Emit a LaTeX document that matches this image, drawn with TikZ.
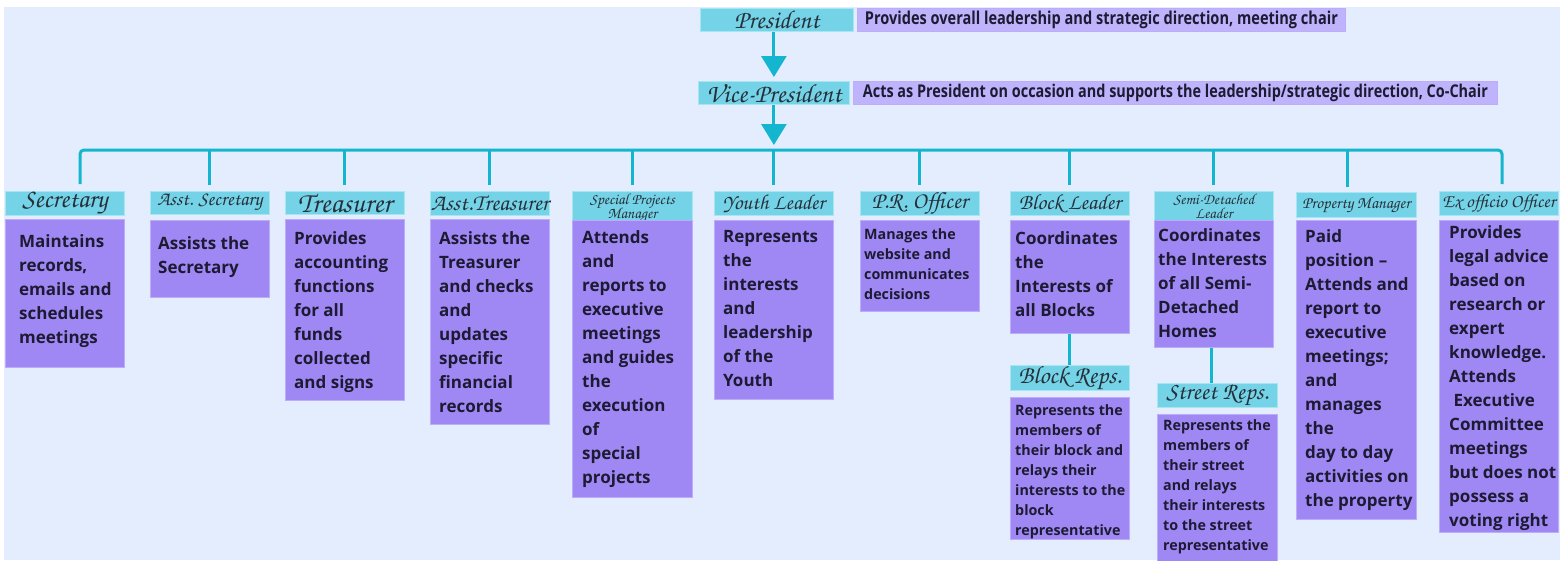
\documentclass[tikz,border=0pt]{standalone}
\usepackage[T1]{fontenc}
\usepackage{fontspec}
\usepackage{graphicx}
\setmainfont{Open Sans}
\newfontfamily\condfont{Open Sans}[FakeStretch=0.82]
\usetikzlibrary{arrows.meta}

% palette
\definecolor{bgblue}{HTML}{E4EDFD}
\definecolor{titlecyan}{HTML}{75D3E7}
\definecolor{titleedge}{HTML}{A6E6F2}
\definecolor{descpurple}{HTML}{A088F4}
\definecolor{descedge}{HTML}{BCACF9}
\definecolor{toplav}{HTML}{BFB3FB}
\definecolor{linkcyan}{HTML}{14B6CF}
\definecolor{inkdark}{HTML}{1D1B33}
\definecolor{scriptink}{HTML}{26303A}

% script lettering for the role names
\newcommand\scr{\fontencoding{T1}\fontfamily{pzc}\fontseries{mb}\fontshape{it}\selectfont}
\newcommand\fitw[2]{\resizebox{#1pt}{!}{#2}}
\newcommand\bigtxt{\fontsize{17}{24}\selectfont\bfseries}
\newcommand\smalltxt{\fontsize{14.3}{20}\selectfont\bfseries}

\begin{document}
\begin{tikzpicture}[x=1pt,y=-1pt,
  ttl/.style={draw=titleedge, line width=0.8pt, fill=titlecyan, inner sep=0pt,
    anchor=north west, text=scriptink, align=center, font=\scr},
  topd/.style={draw=descedge, line width=0.8pt, fill=toplav, inner sep=0pt,
    anchor=north west, text=inkdark, font=\condfont\bfseries\fontsize{15}{18}\selectfont},
  descb/.style={draw=descedge, line width=0.8pt, fill=descpurple, inner sep=0pt, anchor=north west},
  dtxt/.style={inner sep=0pt, anchor=north west, align=left, text=inkdark},
  link/.style={draw=linkcyan, line width=3pt},
  pointer/.style={link, -{Triangle[width=25pt,length=21pt]}}
]
\useasboundingbox (0,0) rectangle (1560,560);
\fill[bgblue] (4,7) rectangle (1560,560);

% --- leadership at the top
\node[ttl, minimum width=153, minimum height=23] (pres) at (700,8) {\fitw{85}{President}};
\node[topd, minimum width=488, minimum height=23] (presD) at (857,8)
  {\fitw{473}{Provides overall leadership and strategic direction, meeting chair}};
\node[ttl, minimum width=151, minimum height=23] (vp) at (698,81) {\fitw{135}{Vice-President}};
\node[topd, minimum width=644, minimum height=23] (vpD) at (853,81)
  {\fitw{625}{Acts as President on occasion and supports the leadership/strategic direction, Co-Chair}};

% --- committee role titles
\node[ttl, minimum width=119, minimum height=23] (sec)  at (5,191)    {\fitw{85}{Secretary}};
\node[ttl, minimum width=119, minimum height=23] (asec) at (150,191)  {\fitw{105}{Asst. Secretary}};
\node[ttl, minimum width=119, minimum height=23] (tre)  at (285,191)  {\fitw{94}{Treasurer}};
\node[ttl, minimum width=119, minimum height=24] (atre) at (430,191)  {\fitw{118}{Asst.Treasurer}};
\node[ttl, minimum width=120, minimum height=24] (spm)  at (572,191)
  {\fitw{85}{\begin{tabular}{@{}c@{}}Special Projects\\[-3pt]Manager\end{tabular}}};
\node[ttl, minimum width=119, minimum height=24] (you)  at (714,191)  {\fitw{102}{Youth Leader}};
\node[ttl, minimum width=119, minimum height=24] (pr)   at (860,191)  {\fitw{96}{P.R. Officer}};
\node[ttl, minimum width=119, minimum height=24] (bl)   at (1010,191) {\fitw{102}{Block Leader}};
\node[ttl, minimum width=119, minimum height=24] (sem)  at (1154,191)
  {\fitw{81}{\begin{tabular}{@{}c@{}}Semi-Detached\\[-3pt]Leader\end{tabular}}};
\node[ttl, minimum width=120, minimum height=25] (pm)   at (1296,192) {\fitw{108}{Property Manager}};
\node[ttl, minimum width=119, minimum height=24] (ex)   at (1439,191) {\fitw{113}{Ex officio Officer}};
\node[ttl, minimum width=119, minimum height=24] (br)   at (1010,365) {\fitw{103}{Block Reps.}};
\node[ttl, minimum width=120, minimum height=24] (str)  at (1157,383) {\fitw{102}{Street Reps.}};

% --- duty panels
\node[descb, minimum width=119, minimum height=148] (secD)  at (5,219)    {};
\node[descb, minimum width=119, minimum height=77]  (asecD) at (150,220)  {};
\node[descb, minimum width=119, minimum height=181] (treD)  at (285,219)  {};
\node[descb, minimum width=119, minimum height=205] (atreD) at (430,219)  {};
\node[descb, minimum width=120, minimum height=277] (spmD)  at (572,220)  {};
\node[descb, minimum width=119, minimum height=179] (youD)  at (714,220)  {};
\node[descb, minimum width=119, minimum height=91]  (prD)   at (860,220)  {};
\node[descb, minimum width=119, minimum height=113] (blD)   at (1010,220) {};
\node[descb, minimum width=119, minimum height=127] (semD)  at (1154,220) {};
\node[descb, minimum width=120, minimum height=299] (pmD)   at (1296,220) {};
\node[descb, minimum width=119, minimum height=312] (exD)   at (1439,220) {};
\node[descb, minimum width=119, minimum height=142] (brD)   at (1010,397) {};
\node[descb, minimum width=120, minimum height=150] (strD)  at (1157,414) {};

% --- duty texts
\node[dtxt, font=\bigtxt] (secT) at (19,234)
  {Maintains\\records,\\emails and\\schedules\\meetings};
\node[dtxt, font=\bigtxt] (asecT) at (158,236) {Assists the\\Secretary};
\node[dtxt, font=\bigtxt] (treT) at (294,231)
  {Provides\\accounting\\functions\\for all\\funds\\collected\\and signs};
\node[dtxt, font=\bigtxt] (atreT) at (439,231)
  {Assists the\\Treasurer\\and checks\\and\\updates\\specific\\financial\\records};
\node[dtxt, font=\bigtxt] (spmT) at (582,230)
  {Attends\\and\\reports to\\executive\\meetings\\and guides\\the\\execution\\of\\special\\projects};
\node[dtxt, font=\bigtxt] (youT) at (723,230)
  {Represents\\the\\interests\\and\\leadership\\of the\\Youth};
\node[dtxt, font=\smalltxt] (prT) at (864,228)
  {Manages the\\website and\\communicates\\decisions};
\node[dtxt, font=\bigtxt] (blT) at (1015,231)
  {Coordinates\\the\\Interests of\\all Blocks};
\node[dtxt, font=\bigtxt] (semT) at (1158,228)
  {Coordinates\\the Interests\\of all Semi-\\Detached\\Homes};
\node[dtxt, font=\bigtxt] (pmT) at (1305,229)
  {Paid\\position –\\Attends and\\report to\\executive\\meetings;\\and\\manages\\the\\day to day\\activities on\\the property};
\node[dtxt, font=\bigtxt] (exT) at (1449,225)
  {Provides\\legal advice\\based on\\research or\\expert\\knowledge.\\Attends\\\ Executive\\Committee\\meetings\\but does not\\possess a\\voting right};
\node[dtxt, font=\smalltxt] (brT) at (1015,404)
  {Represents the\\members of\\their block and\\relays their\\interests to the\\block\\representative};
\node[dtxt, font=\smalltxt] (strT) at (1163,419)
  {Represents the\\members of\\their street\\and relays\\their interests\\to the street\\representative};

% --- connectors
\draw[pointer, shorten >=4pt] (pres.south -| vp.north) -- (vp.north);
\coordinate (barL) at (80,150);
\coordinate (barR) at (1502,150);
\coordinate (pmDrop) at (1347,150);
\coordinate (semDrop) at (1211,360);
\draw[pointer, shorten >=5pt] (vp.south) -- (vp.south |- barL);
\draw[link, rounded corners=4pt, shorten <=7pt, shorten >=7pt]
  (sec.north -| barL) -- (barL) -- (barR) -- (ex.north -| barR);
\foreach \n in {asec,tre,atre,spm,you,pr,bl,sem}
  \draw[link, shorten >=6pt] (\n.north |- barL) -- (\n.north);
\draw[link, shorten >=5pt] (pmDrop) -- (pm.north -| pmDrop);
\draw[link] (blD.south) -- (br.north);
\draw[link] (semD.south -| semDrop) -- (str.north -| semDrop);
\end{tikzpicture}
\end{document}
